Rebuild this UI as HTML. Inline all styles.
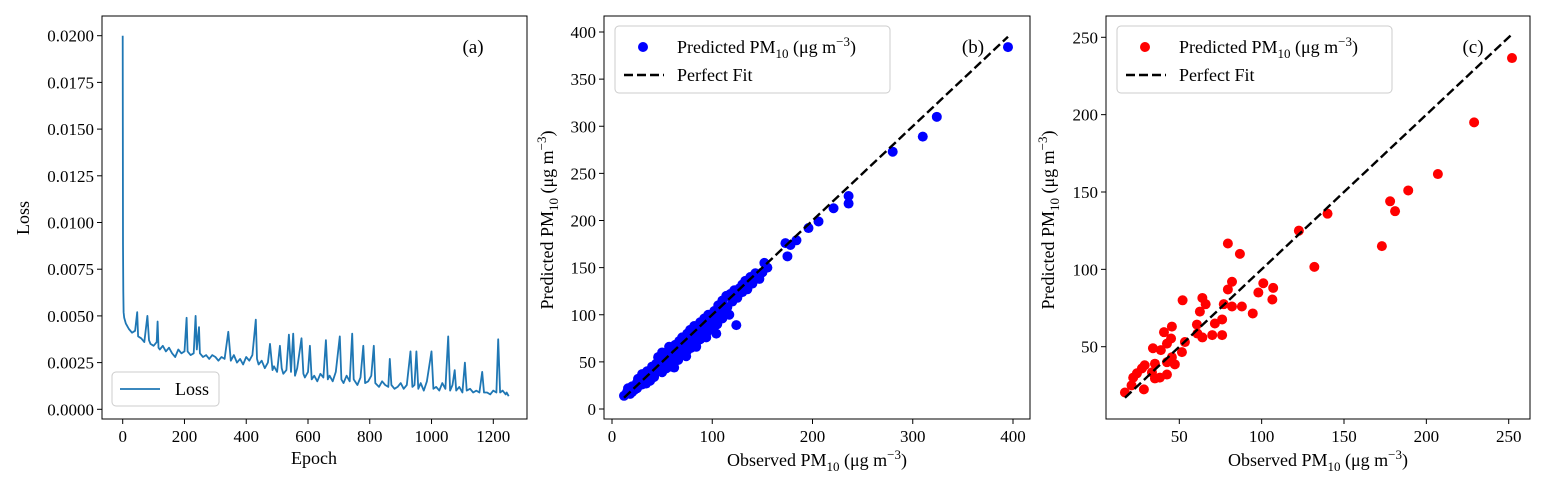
<!DOCTYPE html>
<html><head><meta charset="utf-8"><style>
body{margin:0;background:#fff}
svg{display:block;font-family:"Liberation Serif",serif}
</style></head><body>
<svg id="fig" width="1547" height="487" viewBox="0 0 1547 487" xmlns="http://www.w3.org/2000/svg"></svg>
<script>
// ---- Panel (a) data: training loss (x1e-3)
const lossEpochs=[0,1,2,3,5,10,20,30,40,47,50,60,70,80,85,90,100,110,113,116,120,130,140,150,160,170,180,190,200,207,210,220,230,236,240,247,250,260,270,280,290,300,310,320,330,342,350,360,370,380,390,400,410,420,431,435,440,450,460,470,477,485,490,500,509,515,520,530,538,545,552,558,565,579,585,590,600,606,612,620,630,640,650,658,664,670,680,690,703,708,715,725,735,743,748,760,770,779,785,795,805,813,818,830,840,850,860,865,870,880,890,900,910,920,932,938,945,951,957,965,975,985,1000,1006,1015,1025,1035,1045,1054,1060,1068,1075,1080,1090,1100,1108,1114,1125,1135,1145,1155,1164,1170,1180,1190,1200,1210,1216,1222,1230,1240,1243,1250];
const lossValues=[20.0,8.8,6.3,5.2,4.9,4.6,4.3,4.1,4.2,5.2,3.9,3.8,3.6,5.0,3.7,3.5,3.4,3.6,4.7,3.3,3.2,3.4,3.1,3.3,3.0,2.8,3.2,3.0,3.1,4.9,3.1,2.9,3.0,5.0,3.2,4.4,3.0,2.8,2.9,2.7,2.9,2.8,2.6,2.8,2.7,4.15,2.6,2.9,2.5,2.7,2.4,2.8,2.6,2.9,4.8,2.7,2.4,2.6,2.2,2.5,3.5,2.1,2.3,2.0,3.4,2.2,1.9,2.1,4.0,2.0,4.05,1.8,2.2,3.8,1.9,1.7,2.0,3.4,1.6,1.8,1.5,1.9,1.7,3.7,1.6,1.8,1.5,2.0,3.9,1.6,1.4,1.8,1.5,4.05,1.6,1.3,1.7,3.4,1.4,1.5,1.8,3.4,1.4,1.2,1.5,1.3,1.2,2.7,1.3,1.1,1.2,1.4,1.1,1.3,3.1,1.2,1.3,3.1,1.1,1.4,1.0,1.5,3.1,1.1,1.2,1.0,1.4,1.1,3.9,1.0,1.3,2.1,1.0,1.2,0.9,2.5,1.0,1.1,0.9,1.0,0.9,2.0,0.9,0.9,0.8,1.0,0.9,3.75,0.9,1.0,0.8,0.9,0.7];
const lossYTicks=[0,0.0025,0.005,0.0075,0.01,0.0125,0.015,0.0175,0.02];
const lossXTicks=[0,200,400,600,800,1000,1200];
// ---- Panel (b) data
const obsB=[12,15,18,20,22,25,25,28,30,32,33,35,36,38,40,40,42,44,45,47,48,50,50,52,53,55,56,58,58,60,60,62,63,65,65,67,68,70,70,72,73,75,75,77,78,80,80,82,83,85,86,88,90,90,92,93,95,96,98,100,100,102,103,105,106,108,110,110,112,114,115,117,118,120,122,124,125,127,130,130,133,135,138,140,143,147,150,152,155,173,175,178,184,196,206,221,236,236,280,310,324,395,16,20,26,30,34,38,43,46,50,54,57,62,66,69,74,79,84,88,94,97,104];
const predB=[14,18,16,24,20,28,22,30,26,35,29,40,33,36,45,38,34,48,40,44,52,46,39,56,48,50,60,45,53,64,57,50,68,60,55,72,63,58,76,66,70,80,62,73,84,70,76,88,78,72,82,92,85,78,96,88,82,100,92,95,86,104,98,90,110,102,96,115,106,120,108,100,122,114,126,89,118,128,124,132,136,127,140,133,144,138,145,155,150,176,162,174,179,192,199,213,226,218,273,289,310,384,22,18,32,37,27,30,38,55,60,43,66,44,52,66,56,65,66,74,76,86,80];
const ticksB=[0,50,100,150,200,250,300,350,400];
const xticksB=[0,100,200,300,400];
// ---- Panel (c) data
const obsC=[140,122.6,132,79.5,86.8,82,79.5,101,107,98,106.5,94.6,88,82,77,52,64,66,62.5,60.7,71.6,76,70,76,64,61,53.4,45.5,40.7,45,42.5,34,38.8,51.6,45.5,42.5,47.3,35.2,29,27.3,33.4,24.3,22,38.2,42.5,35.2,21,17,28.5,229,207,189,178,181,173,252];
const predC=[136,125,101.6,116.7,110,92,87,91,88,85,80.5,71.5,76,76,77.5,80,81.5,77.5,72.7,64.3,65,67.6,57.5,57.5,56,58.5,53,63,59.4,55.3,52,49,47.8,46.5,43.2,40,38.6,39,38,36,33.4,32.8,30,30,32,29.5,25,20.4,22.4,195,161.6,151,144,137.6,115,236.6];
const ticksC=[50,100,150,200,250];

const NS="http://www.w3.org/2000/svg";
const svg=document.getElementById('fig');
function mk(tag,attrs,parent){const e=document.createElementNS(NS,tag);for(const k in attrs)e.setAttribute(k,attrs[k]);(parent||svg).appendChild(e);return e;}
function txt(s,attrs,parent){const e=mk('text',attrs,parent);e.textContent=s;return e;}
function lin(d0,d1,r0,r1){return v=>r0+(v-d0)/(d1-d0)*(r1-r0);}

function frame(x0,y0,x1,y1,name){
  const r=mk('rect',{x:x0,y:y0,width:x1-x0,height:y1-y0,fill:'none',stroke:'#000','stroke-width':1});
  
  
}
function yTicks(ticks,sy,x0,fmt,name){
  const g=mk('g',{});
  
  
  ticks.forEach(t=>{const y=sy(t);mk('line',{x1:x0-5,x2:x0,y1:y,y2:y,stroke:'#000'},g);
    txt(fmt(t),{x:x0-8,y:y+6,'text-anchor':'end','font-size':17},g);});
}
function xTicks(ticks,sx,y0,name){
  const g=mk('g',{});
  
  
  ticks.forEach(t=>{const x=sx(t);mk('line',{x1:x,x2:x,y1:y0,y2:y0+5,stroke:'#000'},g);
    txt(String(t),{x:x,y:y0+23,'text-anchor':'middle','font-size':17},g);});
}
function pmLabel(x,y,pre,rot,name){
  const t=mk('text',{x:x,y:y,'text-anchor':'middle','font-size':18,transform:rot?`rotate(-90 ${x} ${y})`:''});
  
  
  t.innerHTML=pre+' PM<tspan font-size="13" dy="5">10</tspan><tspan dy="-5"> (μg m</tspan><tspan font-size="13" dy="-7">−3</tspan><tspan dy="7">)</tspan>';
}

// ===== Panel A
(function(){
  const X0=102,X1=527,Y0=16,Y1=419;
  const sx=lin(0,1200,122.7,493.3), sy=lin(0,0.02,409.3,35.7);
  frame(X0,Y0,X1,Y1,'loss-plot-frame');
  const pts=lossEpochs.map((e,i)=>sx(e).toFixed(1)+','+sy(lossValues[i]/1000).toFixed(1)).join(' ');
  const pl=mk('polyline',{points:pts,fill:'none',stroke:'#1f77b4','stroke-width':1.8,'stroke-linejoin':'round'});
  
  
  yTicks(lossYTicks,sy,X0,t=>t.toFixed(4),'loss-y-ticks');
  xTicks(lossXTicks,sx,Y1,'epoch-x-ticks');
  const xl=txt('Epoch',{x:314,y:464,'text-anchor':'middle','font-size':18});
  
  
  const yl=txt('Loss',{x:29,y:218,'text-anchor':'middle','font-size':18,transform:'rotate(-90 29 218)'});
  
  
  const pa=txt('(a)',{x:473,y:53,'text-anchor':'middle','font-size':19});
  
  
  const lg=mk('g',{});
  
  
  mk('rect',{x:112,y:372,width:107,height:34,rx:4,fill:'#fff','fill-opacity':0.8,stroke:'#ccc'},lg);
  mk('line',{x1:120,x2:160,y1:389,y2:389,stroke:'#1f77b4','stroke-width':1.8},lg);
  txt('Loss',{x:175,y:395,'font-size':18},lg);
})();

function scatterPanel(cfg){
  const {X0,X1,Y0,Y1,sx,sy,obs,pred,color,yt,xt,tag,labelX}=cfg;
  frame(X0,Y0,X1,Y1,'scatter-frame-'+tag);
  const g=mk('g',{});
  
  
  obs.forEach((o,i)=>{const c=mk('circle',{cx:sx(o),cy:sy(pred[i]),r:5,fill:color},g);
    
    });
  const lo=Math.min(...obs), hi=Math.max(...obs);
  const dl=mk('line',{x1:sx(lo),y1:sy(lo),x2:sx(hi),y2:sy(hi),stroke:'#000','stroke-width':2.4,'stroke-dasharray':'9,4'});
  
  
  yTicks(yt,sy,X0,t=>String(t),'y-ticks-'+tag);
  xTicks(xt,sx,Y1,'x-ticks-'+tag);
  pmLabel((X0+X1)/2,466,'Observed',false,'x-axis-title-'+tag);
  pmLabel(labelX,220,'Predicted',true,'y-axis-title-'+tag);
  const pl=txt('('+tag+')',{x:X1-57,y:53,'text-anchor':'middle','font-size':19});
  
  
  const lg=mk('g',{});
  
  
  mk('rect',{x:X0+11,y:26,width:275,height:67,rx:4,fill:'#fff','fill-opacity':0.8,stroke:'#ccc'},lg);
  mk('circle',{cx:X0+39,cy:47,r:5,fill:color},lg);
  const t=mk('text',{x:X0+73,y:53,'font-size':18},lg);
  t.innerHTML='Predicted PM<tspan font-size="13" dy="5">10</tspan><tspan dy="-5"> (μg m</tspan><tspan font-size="13" dy="-7">−3</tspan><tspan dy="7">)</tspan>';
  mk('line',{x1:X0+20,x2:X0+60,y1:75,y2:75,stroke:'#000','stroke-width':2.4,'stroke-dasharray':'9,4'},lg);
  txt('Perfect Fit',{x:X0+73,y:81,'font-size':18},lg);
}
scatterPanel({X0:604,X1:1030,Y0:16,Y1:419,sx:lin(0,400,612,1013),sy:lin(0,400,409,32),obs:obsB,pred:predB,color:'#0000ff',yt:ticksB,xt:xticksB,tag:'b',labelX:553});
scatterPanel({X0:1106,X1:1530,Y0:16,Y1:419,sx:lin(50,250,1179.3,1508.7),sy:lin(50,250,346.7,37.3),obs:obsC,pred:predC,color:'#ff0000',yt:ticksC,xt:ticksC,tag:'c',labelX:1054});
</script>
</body></html>
